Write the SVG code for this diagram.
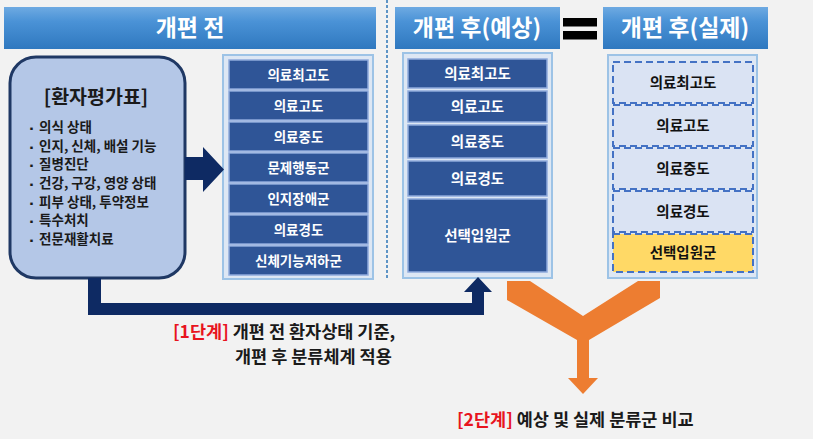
<svg xmlns="http://www.w3.org/2000/svg" width="813" height="439" viewBox="0 0 813 439">
<defs>
<linearGradient id="hdr" x1="0" y1="0" x2="0" y2="1">
<stop offset="0" stop-color="#6eaae2"/>
<stop offset="0.35" stop-color="#4a92d6"/>
<stop offset="1" stop-color="#2f78bf"/>
</linearGradient>
<style>
text{font-family:"Noto Sans CJK KR","Noto Sans",sans-serif;font-weight:700;}
.hdr{fill:url(#hdr);}
.ht{fill:#ffffff;font-size:23px;text-anchor:middle;}
.cont{fill:#dde7f4;stroke:#9dc3e6;stroke-width:2;}
.row{fill:#2f5597;stroke:#8faadc;stroke-width:1.5;}
.rt{fill:#ffffff;font-size:13.5px;text-anchor:middle;}
.rt2{fill:#ffffff;font-size:14.5px;text-anchor:middle;}
.drow{fill:#dae3f3;stroke:#4472c4;stroke-width:2;stroke-dasharray:7 4;}
.ysel{fill:#ffd966;}
.dt{fill:#111111;font-size:14.5px;text-anchor:middle;}
.it{fill:#1a1a1a;font-size:13.5px;}
.navy{fill:#0e2a63;}
.orange{fill:#ed7d31;}
.st{font-size:17.5px;fill:#1a1a1a;}
.red{fill:#e8141e;}
</style>
</defs>
<rect x="0" y="0" width="813" height="439" fill="#f2f2f2"/>
<line x1="387" y1="0" x2="387" y2="278" stroke="#2e75b6" stroke-width="1.5" stroke-dasharray="3 2"/>

<g id="header-before">
<rect class="hdr" x="4" y="7" width="372" height="42"/>
<text class="ht" x="190" y="36">개편 전</text>
</g>
<g id="header-expected">
<rect class="hdr" x="395" y="7" width="165" height="42"/>
<text class="ht" x="477" y="36">개편 후(예상)</text>
</g>
<g id="equals">
<rect x="563" y="18" width="34" height="8.5" fill="#000000"/>
<rect x="563" y="31" width="34" height="8.5" fill="#000000"/>
</g>
<g id="header-actual">
<rect class="hdr" x="603" y="7" width="165" height="42"/>
<text class="ht" x="685" y="36">개편 후(실제)</text>
</g>

<g id="patient-assessment">
<rect x="10" y="57" width="175" height="221" rx="26" fill="#b4c7e7" stroke="#1f3864" stroke-width="3"/>
<text x="96" y="104" font-size="19.5" fill="#1a1a1a" text-anchor="middle">[환자평가표]</text>
<g class="it">
<text x="27" y="132"><tspan font-size="9">▪</tspan> 의식 상태</text>
<text x="27" y="151"><tspan font-size="9">▪</tspan> 인지, 신체, 배설 기능</text>
<text x="27" y="169"><tspan font-size="9">▪</tspan> 질병진단</text>
<text x="27" y="188"><tspan font-size="9">▪</tspan> 건강, 구강, 영양 상태</text>
<text x="27" y="207"><tspan font-size="9">▪</tspan> 피부 상태, 투약정보</text>
<text x="27" y="225"><tspan font-size="9">▪</tspan> 특수처치</text>
<text x="27" y="244"><tspan font-size="9">▪</tspan> 전문재활치료</text>
</g>
</g>

<g id="before-groups">
<rect class="cont" x="223" y="55" width="150" height="224"/>
<rect class="row" x="229" y="60" width="139" height="29"/>
<text class="rt" x="298.5" y="79.5">의료최고도</text>
<rect class="row" x="229" y="91" width="139" height="29"/>
<text class="rt" x="298.5" y="110.5">의료고도</text>
<rect class="row" x="229" y="122" width="139" height="29"/>
<text class="rt" x="298.5" y="141.5">의료중도</text>
<rect class="row" x="229" y="153" width="139" height="29"/>
<text class="rt" x="298.5" y="172.5">문제행동군</text>
<rect class="row" x="229" y="184" width="139" height="29"/>
<text class="rt" x="298.5" y="203.5">인지장애군</text>
<rect class="row" x="229" y="215" width="139" height="29"/>
<text class="rt" x="298.5" y="234.5">의료경도</text>
<rect class="row" x="229" y="246" width="139" height="29"/>
<text class="rt" x="298.5" y="265.5">신체기능저하군</text>
</g>

<g id="expected-groups">
<rect class="cont" x="403" y="53" width="149" height="225"/>
<rect class="row" x="408" y="59" width="139" height="29"/>
<text class="rt2" x="477.5" y="78.5">의료최고도</text>
<rect class="row" x="408" y="91" width="139" height="31"/>
<text class="rt2" x="477.5" y="111.5">의료고도</text>
<rect class="row" x="408" y="125" width="139" height="33"/>
<text class="rt2" x="477.5" y="146.5">의료중도</text>
<rect class="row" x="408" y="161" width="139" height="35"/>
<text class="rt2" x="477.5" y="183.5">의료경도</text>
<rect class="row" x="408" y="199" width="139" height="73"/>
<text class="rt2" x="477.5" y="240.5">선택입원군</text>
</g>

<g id="actual-groups">
<rect class="cont" x="608" y="55" width="149" height="223"/>
<rect class="drow" x="613" y="62" width="140" height="41"/>
<text class="dt" x="683" y="87.5">의료최고도</text>
<rect class="drow" x="613" y="105" width="140" height="41"/>
<text class="dt" x="683" y="130.5">의료고도</text>
<rect class="drow" x="613" y="148" width="140" height="41"/>
<text class="dt" x="683" y="173.5">의료중도</text>
<rect class="drow" x="613" y="191" width="140" height="41"/>
<text class="dt" x="683" y="216.5">의료경도</text>
<rect class="drow ysel" x="613" y="234" width="140" height="38"/>
<text class="dt" x="683" y="258">선택입원군</text>
</g>

<g id="connectors">
<polygon class="navy" points="185,157 203,157 203,147 224,169.5 203,192 203,180 185,180"/>
<polygon class="navy" points="88,278 101,278 101,303 472,303 472,292 464,292 478,277 492,292 484,292 484,315 88,315"/>
<polygon class="orange" points="507,281 530,281 583,316 638,281 660,281 660,298 589,340 589,378 598,378 583,394 568,378 577,378 577,340 507,300"/>
</g>

<g id="stage1-label">
<text class="st" x="173" y="338"><tspan class="red">[1단계]</tspan> 개편 전 환자상태 기준,</text>
<text class="st" x="235" y="363">개편 후 분류체계 적용</text>
</g>
<g id="stage2-label">
<text class="st" x="457" y="426"><tspan class="red">[2단계]</tspan> 예상 및 실제 분류군 비교</text>
</g>
</svg>
